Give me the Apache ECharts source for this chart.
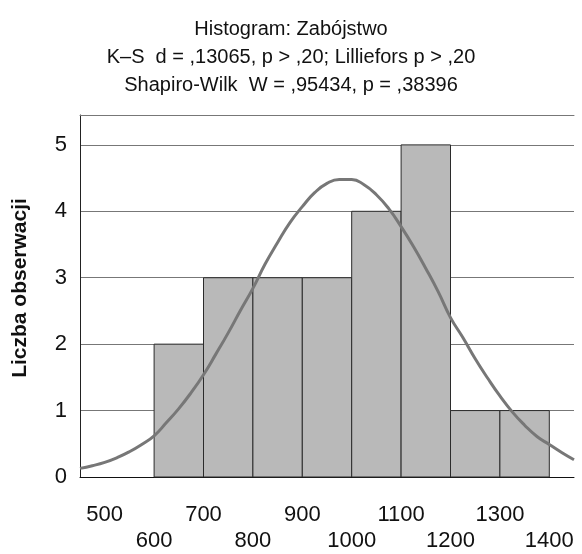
<!DOCTYPE html>
<html>
<head>
<meta charset="utf-8">
<script src="https://cdn.jsdelivr.net/npm/echarts@6/dist/echarts.min.js"></script>
<style>
  html, body { margin: 0; padding: 0; background: #fff; }
  #chart { width: 582px; height: 554px; }
</style>
</head>
<body>
<div id="chart"></div>
<script>
// Histogram bins (start of each 100-wide bin) and observed counts
const binStarts = [600, 700, 800, 900, 1000, 1100, 1200, 1300];
const binWidth = 100;
const counts = [2, 3, 3, 3, 4, 5, 1, 1];

// Fitted normal curve at every 25
const curveX = [450, 475, 500, 525, 550, 575, 600, 625, 650, 675, 700, 725, 750, 775,
                800, 825, 850, 875, 900, 925, 950, 975, 1000, 1025, 1050, 1075, 1100,
                1125, 1150, 1175, 1200, 1225, 1250, 1275, 1300, 1325, 1350, 1375, 1400,
                1425, 1450];
const curveY = [0.13, 0.17, 0.22, 0.29, 0.38, 0.49, 0.62, 0.82, 1.03, 1.27, 1.54, 1.85, 2.17, 2.51,
                2.84, 3.21, 3.53, 3.83, 4.07, 4.28, 4.42, 4.48, 4.48, 4.40, 4.25, 4.04, 3.77,
                3.47, 3.14, 2.79, 2.40, 2.10, 1.78, 1.49, 1.22, 0.98, 0.78, 0.61, 0.49,
                0.37, 0.26];

const titleLines = [
  'Histogram: Zabójstwo',
  'K–S  d = ,13065, p > ,20; Lilliefors p > ,20',
  'Shapiro-Wilk  W = ,95434, p = ,38396'
];
const yAxisTitle = 'Liczba obserwacji';

const FONT = "'Liberation Sans', Arial, sans-serif";
const TEXT = '#111';

const chart = echarts.init(document.getElementById('chart'), null, { renderer: 'canvas' });

const barData = binStarts.map((s, i) => [s, s + binWidth, counts[i]]);
const curveData = curveX.map((x, i) => [x, curveY[i]]);

chart.setOption({
  animation: false,
  backgroundColor: '#fff',
  textStyle: { fontFamily: FONT },
  title: {
    text: titleLines.join('\n'),
    left: 'center',
    top: 10,
    textStyle: { fontFamily: FONT, fontSize: 20, fontWeight: 'normal', color: TEXT, lineHeight: 28 }
  },
  grid: { left: 80, right: 8, top: 115, bottom: 71 },
  xAxis: [{
    type: 'value',
    min: 450,
    max: 1450,
    interval: 50,
    axisLine: { show: true, lineStyle: { color: '#111', width: 1 } },
    axisTick: { show: false },
    splitLine: { show: false },
    axisLabel: {
      margin: 25,
      fontSize: 22,
      color: TEXT,
      fontFamily: FONT,
      lineHeight: 26,
      formatter: v => {
        if (v % 100 !== 0) return '';
        return (v / 100) % 2 === 1 ? String(v) : '\n' + v;
      }
    }
  }, {
    // top frame line
    type: 'value',
    position: 'top',
    min: 450,
    max: 1450,
    axisLine: { show: true, onZero: false, lineStyle: { color: '#777', width: 1 } },
    axisTick: { show: false },
    axisLabel: { show: false },
    splitLine: { show: false }
  }],
  yAxis: {
    type: 'value',
    min: 0,
    max: 5.45,
    interval: 1,
    name: yAxisTitle,
    nameLocation: 'middle',
    nameGap: 49,
    nameTextStyle: { fontFamily: FONT, fontSize: 21, fontWeight: 'bold', color: TEXT, padding: [0, 0, 0, 16] },
    axisLine: { show: true, lineStyle: { color: '#222', width: 1 } },
    axisTick: { show: false },
    axisLabel: { margin: 13, fontSize: 22, color: TEXT, fontFamily: FONT, showMaxLabel: false },
    splitLine: { show: true, lineStyle: { color: '#777', width: 1 } }
  },
  series: [{
    type: 'custom',
    xAxisIndex: 0,
    data: barData,
    z: 2,
    renderItem: (params, api) => {
      const p0 = api.coord([api.value(0), api.value(2)]);
      const p1 = api.coord([api.value(1), 0]);
      return {
        type: 'rect',
        shape: { x: p0[0], y: p0[1], width: p1[0] - p0[0], height: p1[1] - p0[1] },
        style: { fill: '#b9b9b9', stroke: '#2b2b2b', lineWidth: 1 }
      };
    }
  }, {
    type: 'line',
    xAxisIndex: 0,
    data: curveData,
    smooth: true,
    showSymbol: false,
    z: 3,
    lineStyle: { color: '#777', width: 3 }
  }]
});
</script>
</body>
</html>
